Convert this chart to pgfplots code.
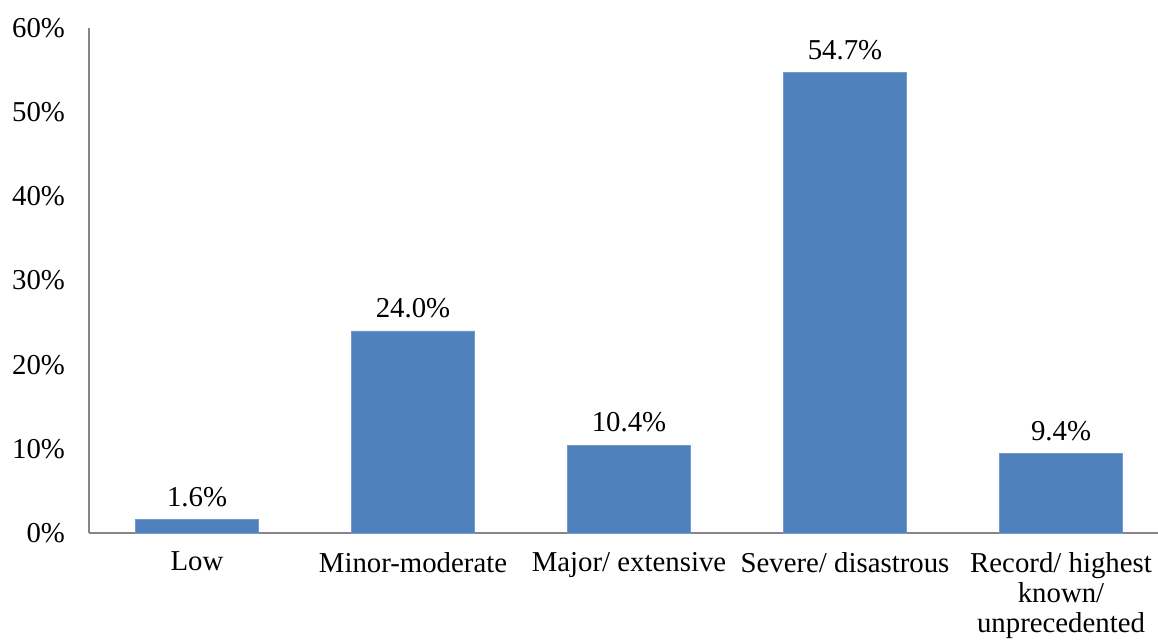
\documentclass[border=0pt]{standalone}
\usepackage{fontspec}
\setmainfont{Liberation Serif}
\usepackage{pgfplots}
\pgfplotsset{compat=1.18}
\definecolor{barblue}{HTML}{4F81BD}
\definecolor{axisgray}{HTML}{868686}
\begin{document}
\begin{tikzpicture}
\begin{axis}[
  name=ax,
  scale only axis,
  width=534.5pt, height=252.5pt,
  xmin=-0.5, xmax=4.449,
  ymin=0, ymax=60,
  axis lines*=left,
  axis line style={axisgray, line width=0.8pt},
  ytick={0,10,20,30,40,50,60},
  yticklabels={0\%,10\%,20\%,30\%,40\%,50\%,60\%},
  xtick={0,1,2,3,4},
  xticklabels={Low,Minor-moderate,Major/ extensive,Severe/ disastrous,Record/ highest\\known/\\unprecedented},
  major tick length=0pt,
  tick label style={font=\fontsize{14.4}{15}\selectfont},
  xticklabel style={align=center, anchor=north, yshift=-6pt},
  yticklabel style={xshift=-8.5pt},
  /pgf/number format/assume math mode=true,
  ybar, bar width=61.5pt,
  nodes near coords={\pgfmathprintnumber[fixed,fixed zerofill,precision=1]{\pgfplotspointmeta}\%},
  nodes near coords style={font=\fontsize{14.4}{15}\selectfont, black, yshift=3pt},
  clip=false,
]
\addplot[fill=barblue, draw=barblue!80!white, line width=0.4pt]
  coordinates {(0,1.6) (1,24.0) (2,10.4) (3,54.7) (4,9.4)};
\end{axis}
\pgfresetboundingbox
\path ([xshift=-44.5pt,yshift=-54pt]ax.south west) rectangle ([xshift=534.5pt,yshift=266.5pt]ax.south west);
\end{tikzpicture}
\end{document}
